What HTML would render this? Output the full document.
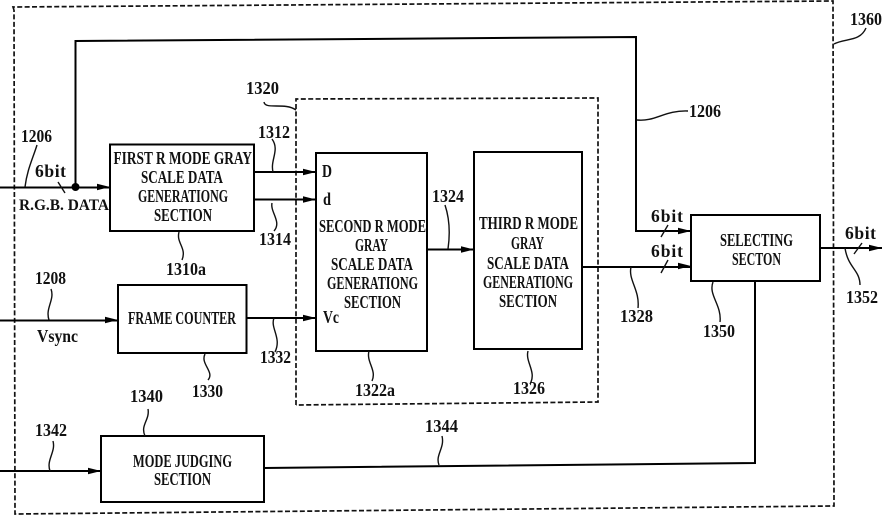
<!DOCTYPE html>
<html><head><meta charset="utf-8"><style>
html,body{margin:0;padding:0;background:#fff}
svg{display:block}
text{font-family:"Liberation Serif",serif;font-weight:bold;font-size:17.500px;fill:#111}
.l{fill:none;stroke:#000;stroke-width:2}
.d{fill:none;stroke:#111;stroke-width:1.7;stroke-dasharray:5 2.4}
.t{fill:none;stroke:#111;stroke-width:1.4}
.b{fill:#fff;stroke:#000;stroke-width:2}
</style></head><body>
<svg width="882" height="516" viewBox="0 0 882 516" xmlns="http://www.w3.org/2000/svg">
<rect width="882" height="516" fill="#fff"/>
<defs><path id="a" d="M0 0L-13 -3.2L-13 3.2Z" fill="#000"/></defs>
<path class="d" d="M14 10L13 7L833 1L834 506L15 514L14 10"/>
<path class="d" d="M296 405L296 99L598 98L598 402L296 405"/>
<path class="l" d="M75.500 187V41L636 37V231H691"/>
<path class="l" d="M0 187.500H110M254 172H316M254 199.500H316M427 249.500H474M582 267H691M820 248H882M0 320.500H118M246 318H316M0 471H101"/>
<path class="l" d="M755 281V463L264 468"/>
<rect class="b" x="110" y="144.500" width="144" height="86.500"/>
<rect class="b" x="118" y="285" width="128.500" height="68"/>
<rect class="b" x="101" y="436" width="163" height="66"/>
<rect class="b" x="316" y="153" width="111" height="198"/>
<rect class="b" x="474" y="152" width="108" height="197"/>
<rect class="b" x="691" y="215" width="129" height="66"/>
<circle cx="75.500" cy="187" r="4" fill="#000"/>
<use href="#a" x="110" y="187"/><use href="#a" x="316" y="172"/><use href="#a" x="316" y="199.500"/>
<use href="#a" x="118" y="320"/><use href="#a" x="316" y="318"/><use href="#a" x="474" y="249.500"/>
<use href="#a" x="691" y="231"/><use href="#a" x="691" y="266"/><use href="#a" x="882" y="248"/><use href="#a" x="101" y="471"/>
<path class="t" d="M37 145C33 158 27 170 25 187M272 139C280 150 270 160 273 172M272 203C270 212 282 222 274 231M179 232C176 243 187 248 182 260M51 289C55 300 45 308 49 320M274 318C270 328 282 338 275 352M205 354C200 364 215 372 208 380M148 409C150 420 140 425 145 436M53 441C56 452 46 460 50 471M442 436C445 448 435 455 439 465M264 102C265 110 285 102 296 110M637 120C655 122 665 110 688 111M834 44C845 38 860 42 866 28M445 205C450 220 450 235 448 249M369 351C366 362 377 370 372 381M528 351C525 362 537 372 530 384M631 267C628 280 640 290 638 308M713 282C708 295 722 305 720 322M845 248C848 268 860 270 860 285"/>
<path class="t" d="M58 182L65 193M668 225L661 237M668 260L661 273M862 243L854 254"/>
<text x="113.500" y="164" textLength="138.500" lengthAdjust="spacingAndGlyphs">FIRST R MODE GRAY</text>
<text x="141" y="183" textLength="82" lengthAdjust="spacingAndGlyphs">SCALE DATA</text>
<text x="138" y="202" textLength="90" lengthAdjust="spacingAndGlyphs">GENERATIONG</text>
<text x="154" y="221" textLength="58" lengthAdjust="spacingAndGlyphs">SECTION</text>
<text x="128" y="324" textLength="108" lengthAdjust="spacingAndGlyphs">FRAME COUNTER</text>
<text x="133" y="467" textLength="99" lengthAdjust="spacingAndGlyphs">MODE JUDGING</text>
<text x="154" y="485" textLength="57" lengthAdjust="spacingAndGlyphs">SECTION</text>
<text x="319" y="232" textLength="107" lengthAdjust="spacingAndGlyphs">SECOND R MODE</text>
<text x="355" y="251" textLength="33" lengthAdjust="spacingAndGlyphs">GRAY</text>
<text x="331" y="270" textLength="82" lengthAdjust="spacingAndGlyphs">SCALE DATA</text>
<text x="327" y="289" textLength="91" lengthAdjust="spacingAndGlyphs">GENERATIONG</text>
<text x="344" y="308" textLength="57" lengthAdjust="spacingAndGlyphs">SECTION</text>
<text x="479" y="229" textLength="99" lengthAdjust="spacingAndGlyphs">THIRD R MODE</text>
<text x="511" y="249" textLength="33" lengthAdjust="spacingAndGlyphs">GRAY</text>
<text x="487" y="269" textLength="82" lengthAdjust="spacingAndGlyphs">SCALE DATA</text>
<text x="483" y="288" textLength="90" lengthAdjust="spacingAndGlyphs">GENERATIONG</text>
<text x="499" y="307" textLength="58" lengthAdjust="spacingAndGlyphs">SECTION</text>
<text x="720" y="246" textLength="73" lengthAdjust="spacingAndGlyphs">SELECTING</text>
<text x="732" y="265" textLength="49" lengthAdjust="spacingAndGlyphs">SECTON</text>
<text x="19" y="210" textLength="90" lengthAdjust="spacingAndGlyphs" style="font-size:16px">R.G.B. DATA</text>
<text x="37" y="342" textLength="41" lengthAdjust="spacingAndGlyphs">Vsync</text>
<text x="322" y="177" textLength="10" lengthAdjust="spacingAndGlyphs">D</text>
<text x="323" y="205" textLength="8" lengthAdjust="spacingAndGlyphs">d</text>
<text x="323" y="323" textLength="16" lengthAdjust="spacingAndGlyphs">Vc</text>
<text x="35" y="177" textLength="31" lengthAdjust="spacing">6bit</text>
<text x="651" y="222" textLength="32" lengthAdjust="spacing">6bit</text>
<text x="651" y="257" textLength="32" lengthAdjust="spacing">6bit</text>
<text x="845" y="239" textLength="31" lengthAdjust="spacing">6bit</text>
<text x="21" y="142" textLength="31" lengthAdjust="spacingAndGlyphs">1206</text>
<text x="258" y="138" textLength="32" lengthAdjust="spacingAndGlyphs">1312</text>
<text x="259" y="245" textLength="32" lengthAdjust="spacingAndGlyphs">1314</text>
<text x="166" y="275" textLength="40" lengthAdjust="spacingAndGlyphs">1310a</text>
<text x="35" y="284" textLength="31" lengthAdjust="spacingAndGlyphs">1208</text>
<text x="260" y="363" textLength="31" lengthAdjust="spacingAndGlyphs">1332</text>
<text x="192" y="397" textLength="31" lengthAdjust="spacingAndGlyphs">1330</text>
<text x="130" y="402" textLength="33" lengthAdjust="spacingAndGlyphs">1340</text>
<text x="35" y="436" textLength="32" lengthAdjust="spacingAndGlyphs">1342</text>
<text x="425" y="432" textLength="33" lengthAdjust="spacingAndGlyphs">1344</text>
<text x="246" y="94" textLength="33" lengthAdjust="spacingAndGlyphs">1320</text>
<text x="689" y="117" textLength="32" lengthAdjust="spacingAndGlyphs">1206</text>
<text x="850" y="25" textLength="32" lengthAdjust="spacingAndGlyphs">1360</text>
<text x="432" y="202" textLength="32" lengthAdjust="spacingAndGlyphs">1324</text>
<text x="355" y="396" textLength="40" lengthAdjust="spacingAndGlyphs">1322a</text>
<text x="513" y="394" textLength="32" lengthAdjust="spacingAndGlyphs">1326</text>
<text x="620" y="322" textLength="33" lengthAdjust="spacingAndGlyphs">1328</text>
<text x="703" y="337" textLength="32" lengthAdjust="spacingAndGlyphs">1350</text>
<text x="846" y="303" textLength="32" lengthAdjust="spacingAndGlyphs">1352</text>
</svg>
</body></html>
